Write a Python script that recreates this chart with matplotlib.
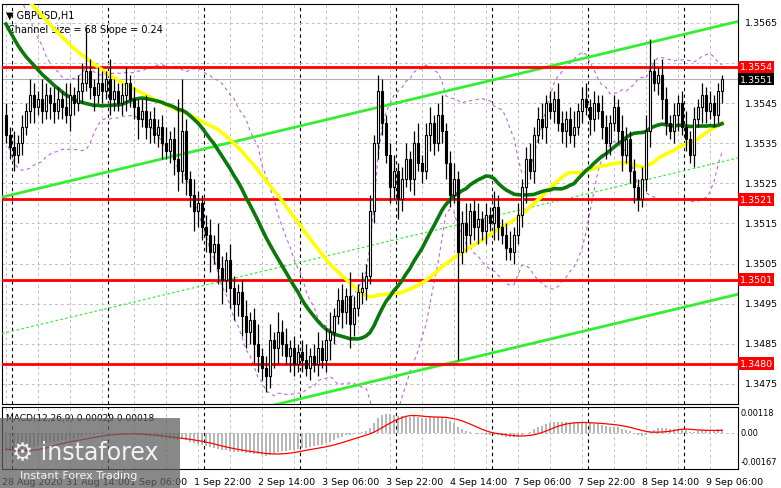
import numpy as np
import matplotlib
matplotlib.use("Agg")
import matplotlib.pyplot as plt
from matplotlib.transforms import blended_transform_factory

BASE = 1.3400
PIP = 0.0001

# closes before the visible window (pips above 1.3400), feed the indicators
pre_closes = [196, 198, 200, 197, 199, 202, 201, 203, 200, 198, 199, 201, 197, 195, 196, 194, 192, 193, 190, 191,
              188, 189, 186, 186, 183, 183, 180, 178, 178, 175, 175, 172, 170, 171, 168, 166, 163, 165, 160, 158,
              161, 156, 154, 150, 152, 148, 146, 144, 145, 142]

closes = [137, 134, 132, 135, 139, 143, 147, 144, 146, 143,
          147, 145, 143, 146, 144, 142, 147, 145, 148, 150,
          153, 149, 147, 150, 148, 151, 146, 148, 145, 147,
          150, 146, 144, 141, 143, 139, 141, 137, 139, 135,
          133, 136, 131, 128, 138, 126, 122, 118, 120, 114,
          112, 108, 110, 104, 101, 106, 99, 95, 98, 92,
          88, 91, 85, 82, 79, 77, 86, 84, 88, 85,
          82, 84, 80, 83, 81, 79, 82, 80, 84, 81,
          86, 88, 92, 96, 93, 97, 90, 94, 98, 99,
          102, 118, 135, 148, 140, 132, 124, 128, 121, 126,
          131, 126, 135, 130, 128, 137, 140, 135, 142, 138,
          130, 122, 126, 108, 115, 112, 118, 114, 116, 113,
          117, 115, 119, 114, 112, 109, 108, 112, 117, 124,
          131, 128, 137, 141, 139, 145, 143, 146, 140, 138,
          141, 137, 139, 143, 146, 144, 141, 145, 143, 139,
          135, 140, 144, 138, 132, 136, 128, 124, 121, 126,
          138, 153, 150, 152, 146, 140, 138, 142, 145, 139,
          136, 132, 141, 144, 147, 143, 145, 142, 148, 151]

upper_wicks = [3, 2, 4, 2, 3, 2, 4, 3, 2, 5, 3, 2, 4, 3, 2, 6, 3, 2, 4, 5,
               11, 3, 2, 4, 3, 2, 5, 3, 2, 3, 4, 2, 3, 2, 3, 4, 2, 3, 2, 3,
               4, 2, 3, 15, 13, 3, 2, 4, 3, 2, 3, 4, 2, 5, 3, 2, 4, 3, 2, 3,
               4, 2, 3, 5, 2, 3, 4, 2, 5, 3, 4, 2, 3, 2, 3, 4, 2, 3, 4, 2,
               3, 5, 2, 3, 4, 2, 6, 3, 2, 4, 3, 4, 2, 4, 3, 2, 3, 4, 2, 3,
               4, 2, 3, 5, 2, 3, 4, 2, 3, 5, 2, 3, 4, 2, 3, 5, 2, 3, 4, 2,
               3, 2, 4, 3, 2, 3, 4, 2, 3, 2, 3, 4, 2, 3, 4, 2, 3, 2, 4, 3,
               2, 3, 4, 2, 3, 4, 2, 3, 2, 4, 3, 2, 3, 2, 4, 3, 2, 3, 2, 3,
               4, 8, 3, 2, 4, 3, 2, 3, 2, 3, 4, 2, 3, 2, 3, 2, 3, 2, 2, 1]
lower_wicks = [2, 3, 4, 2, 3, 2, 3, 4, 2, 3, 2, 4, 3, 2, 3, 2, 4, 3, 2, 3,
               2, 3, 4, 2, 3, 2, 4, 3, 2, 3, 4, 2, 3, 5, 2, 3, 4, 2, 3, 4,
               2, 3, 4, 5, 3, 4, 3, 5, 4, 3, 4, 5, 3, 4, 6, 3, 5, 4, 3, 5,
               4, 3, 5, 4, 3, 4, 3, 5, 4, 3, 2, 4, 3, 2, 3, 2, 3, 2, 3, 2,
               3, 5, 3, 2, 4, 3, 6, 3, 2, 3, 3, 2, 3, 4, 3, 2, 4, 3, 5, 3,
               2, 3, 4, 2, 3, 2, 4, 3, 2, 3, 4, 3, 2, 27, 3, 4, 2, 3, 4, 2,
               3, 2, 4, 3, 2, 3, 2, 3, 2, 3, 4, 2, 3, 2, 3, 4, 2, 3, 2, 3,
               4, 2, 3, 2, 3, 2, 4, 3, 2, 3, 4, 3, 2, 3, 4, 2, 3, 4, 3, 2,
               3, 4, 2, 3, 5, 3, 2, 3, 4, 2, 3, 2, 3, 2, 4, 3, 2, 3, 2, 3]

levels = [1.3554, 1.3521, 1.3501, 1.3480]
current_price = 1.3551
grid_prices = [1.3565, 1.3555, 1.3545, 1.3535, 1.3525, 1.3515, 1.3505, 1.3495, 1.3485, 1.3475]
price_labels = ["1.3565", "", "1.3545", "1.3535", "1.3525", "1.3515", "1.3505", "1.3495", "1.3485", "1.3475"]
time_labels = ["28 Aug 2020", "31 Aug 14:00", "1 Sep 06:00", "1 Sep 22:00", "2 Sep 14:00", "3 Sep 06:00",
               "3 Sep 22:00", "4 Sep 14:00", "7 Sep 06:00", "7 Sep 22:00", "8 Sep 14:00", "9 Sep 06:00"]
# regression channel: middle price at bar 0 and slope per bar, half width
chan_mid0, chan_slope, chan_half = 1.34878, 0.0000238, 0.0034

allc = BASE + np.array(pre_closes + closes) * PIP
n_pre = len(pre_closes)
n = len(closes)
c = allc[n_pre:]
o = allc[n_pre - 1:-1]
h = np.maximum(o, c) + np.array(upper_wicks) * PIP
lo = np.minimum(o, c) - np.array(lower_wicks) * PIP
x = np.arange(n)


def sma(v, p):
    return np.convolve(v, np.ones(p) / p, mode="full")[p - 1:len(v)]


def ema(v, p):
    out = np.empty_like(v)
    k = 2 / (p + 1)
    out[0] = v[0]
    for i in range(1, len(v)):
        out[i] = v[i] * k + out[i - 1] * (1 - k)
    return out


ma30 = sma(allc, 30)[n_pre - 29:]
ma50 = sma(allc, 50)[n_pre - 49:]
bb_mid = sma(allc, 20)[n_pre - 19:]
bb_std = np.array([allc[n_pre + i - 19:n_pre + i + 1].std() for i in range(n)])
macd_full = ema(allc, 12) - ema(allc, 26)
sig_full = sma(macd_full, 9)
macd = macd_full[n_pre:]
sig = sig_full[n_pre - 8:]

plt.rcParams.update({"font.family": "DejaVu Sans", "font.size": 7})
fig = plt.figure(figsize=(7.81, 4.89), dpi=100, facecolor="white")
W, H = 781, 489
ax = fig.add_axes([2 / W, 1 - 405 / H, 736 / W, 400 / H])
axm = fig.add_axes([2 / W, 1 - 470 / H, 736 / W, 62 / H], sharex=ax)

ax.set_xlim(-1, 183)
ax.set_ylim(1.3470, 1.35697)
axm.set_ylim(-0.00213, 0.00153)

for a in (ax, axm):
    a.set_xticks([])
    a.set_yticks([])
    for s in a.spines.values():
        s.set_color("black")
        s.set_linewidth(0.8)
    for k in range(0, n + 4, 8):
        a.axvline(k, color="#c0c0c0", ls=(0, (3, 3)), lw=0.7, zorder=0)
    for k in range(0, n + 4, 24):
        a.axvline(k + 1.5, color="black", ls=(0, (3, 3)), lw=0.8, zorder=0)
for gp in grid_prices:
    ax.axhline(gp, color="#c0c0c0", ls=(0, (3, 3)), lw=0.7, zorder=0)
axm.axhline(0, color="#c0c0c0", ls=(0, (3, 3)), lw=0.7, zorder=0)

# channel
xs = np.array([-1, 183])
ax.plot(xs, chan_mid0 + chan_slope * xs + chan_half, color="#33ee33", lw=2, zorder=3)
ax.plot(xs, chan_mid0 + chan_slope * xs - chan_half, color="#33ee33", lw=2, zorder=3)
ax.plot(xs, chan_mid0 + chan_slope * xs, color="#33ee33", lw=0.9, ls=(0, (2, 2)), zorder=3)

# bollinger
ax.plot(x, bb_mid + 2 * bb_std, color="#bb66dd", lw=0.8, ls=(0, (3, 3)), zorder=2)
ax.plot(x, bb_mid - 2 * bb_std, color="#bb66dd", lw=0.8, ls=(0, (3, 3)), zorder=2)

ax.plot(x, ma50, color="#ffff00", lw=2.6, zorder=4)
ax.plot(x, ma30, color="#0a780a", lw=2.6, zorder=5)

for lv in levels:
    ax.axhline(lv, color="#ff0000", lw=2, zorder=3)
ax.axhline(current_price, color="#b0b0b0", lw=0.8, zorder=1)

# candles
for i in range(n):
    up = c[i] >= o[i]
    ax.vlines(i, lo[i], h[i], color="black", lw=0.9, zorder=6)
    bottom = min(o[i], c[i])
    height = max(abs(c[i] - o[i]), 0.00003)
    ax.bar(i, height, bottom=bottom, width=0.55, color="white" if up else "black",
           edgecolor="black", lw=0.8, zorder=7)

# macd
axm.bar(x, macd, width=0.5, color="#b8b8b8", zorder=2)
axm.plot(x, sig, color="#ff0000", lw=0.9, zorder=3)

# axis labels on the right
tr = blended_transform_factory(ax.transAxes, ax.transData)
for gp, lab in zip(grid_prices, price_labels):
    if lab:
        ax.text(1.01, gp, lab, transform=tr, va="center", ha="left", fontsize=6.8, clip_on=False)
for lv in levels:
    ax.text(1.002, lv, f"{lv:.4f}", transform=tr, va="center", ha="left", fontsize=6.8, color="white",
            clip_on=False, bbox=dict(boxstyle="square,pad=0.2", fc="#ff0000", ec="none"))
ax.text(1.002, current_price, f"{current_price:.4f}", transform=tr, va="center", ha="left", fontsize=6.8,
        color="white", clip_on=False, bbox=dict(boxstyle="square,pad=0.2", fc="black", ec="none"))
trm = blended_transform_factory(axm.transAxes, axm.transData)
for v, lab in [(0.00118, "0.00118"), (0.0, "0.00"), (-0.00167, "-0.00167")]:
    axm.text(1.004, v, lab, transform=trm, va="center", ha="left", fontsize=5.9, clip_on=False)

for k, lab in enumerate(time_labels):
    axm.text(16 * k - 1, -0.0026, lab, va="top", ha="left", fontsize=6.8, clip_on=False)

ax.text(0.005, 0.985, "\u25bc GBPUSD,H1", transform=ax.transAxes, fontsize=7, va="top")
ax.text(0.008, 0.95, "Channel size = 68 Slope = 0.24", transform=ax.transAxes, fontsize=7, va="top")
axm.text(0.005, 0.9, "MACD(12,26,9) 0.00029 0.00018", transform=axm.transAxes, fontsize=6.5, va="top")

# watermark logo
fig.patches.append(plt.Rectangle((0, 0), 180 / W, 70 / H, transform=fig.transFigure,
                                 facecolor="#606060", alpha=0.75, zorder=10))
fig.text(12 / W, 30 / H, "\u2699 instaforex", color="white", fontsize=17, zorder=11, alpha=0.9)
fig.text(20 / W, 10 / H, "Instant Forex Trading", color="white", fontsize=8, zorder=11, alpha=0.9)

fig.savefig("out.png", dpi=100, facecolor="white")
